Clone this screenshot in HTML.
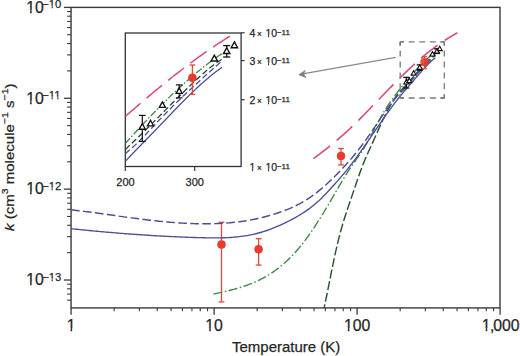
<!DOCTYPE html>
<html><head><meta charset="utf-8"><style>
html,body{margin:0;padding:0;background:#fff;}
body{width:520px;height:356px;overflow:hidden;position:relative;}
svg{position:absolute;left:0;top:0;font-family:"Liberation Sans",sans-serif;}
text{stroke:#262626;stroke-width:0.25px;}
</style></head><body>
<svg width="520" height="356" viewBox="0 0 520 356">
<rect x="71.05" y="7.4" width="428.95" height="300.5" fill="none" stroke="#3a3a3a" stroke-width="1.4"/>
<line x1="63.9" y1="7.40" x2="71" y2="7.40" stroke="#3a3a3a" stroke-width="1.3"/>
<line x1="67.1" y1="70.92" x2="71" y2="70.92" stroke="#3a3a3a" stroke-width="1.1"/>
<line x1="67.1" y1="54.91" x2="71" y2="54.91" stroke="#3a3a3a" stroke-width="1.1"/>
<line x1="67.1" y1="43.56" x2="71" y2="43.56" stroke="#3a3a3a" stroke-width="1.1"/>
<line x1="67.1" y1="34.75" x2="71" y2="34.75" stroke="#3a3a3a" stroke-width="1.1"/>
<line x1="67.1" y1="27.56" x2="71" y2="27.56" stroke="#3a3a3a" stroke-width="1.1"/>
<line x1="67.1" y1="21.48" x2="71" y2="21.48" stroke="#3a3a3a" stroke-width="1.1"/>
<line x1="67.1" y1="16.21" x2="71" y2="16.21" stroke="#3a3a3a" stroke-width="1.1"/>
<line x1="67.1" y1="11.56" x2="71" y2="11.56" stroke="#3a3a3a" stroke-width="1.1"/>
<line x1="63.9" y1="98.27" x2="71" y2="98.27" stroke="#3a3a3a" stroke-width="1.3"/>
<line x1="67.1" y1="161.79" x2="71" y2="161.79" stroke="#3a3a3a" stroke-width="1.1"/>
<line x1="67.1" y1="145.78" x2="71" y2="145.78" stroke="#3a3a3a" stroke-width="1.1"/>
<line x1="67.1" y1="134.43" x2="71" y2="134.43" stroke="#3a3a3a" stroke-width="1.1"/>
<line x1="67.1" y1="125.62" x2="71" y2="125.62" stroke="#3a3a3a" stroke-width="1.1"/>
<line x1="67.1" y1="118.43" x2="71" y2="118.43" stroke="#3a3a3a" stroke-width="1.1"/>
<line x1="67.1" y1="112.35" x2="71" y2="112.35" stroke="#3a3a3a" stroke-width="1.1"/>
<line x1="67.1" y1="107.08" x2="71" y2="107.08" stroke="#3a3a3a" stroke-width="1.1"/>
<line x1="67.1" y1="102.43" x2="71" y2="102.43" stroke="#3a3a3a" stroke-width="1.1"/>
<line x1="63.9" y1="189.14" x2="71" y2="189.14" stroke="#3a3a3a" stroke-width="1.3"/>
<line x1="67.1" y1="252.66" x2="71" y2="252.66" stroke="#3a3a3a" stroke-width="1.1"/>
<line x1="67.1" y1="236.65" x2="71" y2="236.65" stroke="#3a3a3a" stroke-width="1.1"/>
<line x1="67.1" y1="225.30" x2="71" y2="225.30" stroke="#3a3a3a" stroke-width="1.1"/>
<line x1="67.1" y1="216.49" x2="71" y2="216.49" stroke="#3a3a3a" stroke-width="1.1"/>
<line x1="67.1" y1="209.30" x2="71" y2="209.30" stroke="#3a3a3a" stroke-width="1.1"/>
<line x1="67.1" y1="203.22" x2="71" y2="203.22" stroke="#3a3a3a" stroke-width="1.1"/>
<line x1="67.1" y1="197.95" x2="71" y2="197.95" stroke="#3a3a3a" stroke-width="1.1"/>
<line x1="67.1" y1="193.30" x2="71" y2="193.30" stroke="#3a3a3a" stroke-width="1.1"/>
<line x1="63.9" y1="280.01" x2="71" y2="280.01" stroke="#3a3a3a" stroke-width="1.3"/>
<line x1="67.1" y1="284.17" x2="71" y2="284.17" stroke="#3a3a3a" stroke-width="1.1"/>
<line x1="67.1" y1="288.82" x2="71" y2="288.82" stroke="#3a3a3a" stroke-width="1.1"/>
<line x1="67.1" y1="294.09" x2="71" y2="294.09" stroke="#3a3a3a" stroke-width="1.1"/>
<line x1="67.1" y1="300.17" x2="71" y2="300.17" stroke="#3a3a3a" stroke-width="1.1"/>
<line x1="71.10" y1="307.9" x2="71.10" y2="314.8" stroke="#3a3a3a" stroke-width="1.3"/>
<line x1="114.15" y1="307.9" x2="114.15" y2="311.3" stroke="#3a3a3a" stroke-width="1.1"/>
<line x1="139.33" y1="307.9" x2="139.33" y2="311.3" stroke="#3a3a3a" stroke-width="1.1"/>
<line x1="157.19" y1="307.9" x2="157.19" y2="311.3" stroke="#3a3a3a" stroke-width="1.1"/>
<line x1="171.05" y1="307.9" x2="171.05" y2="311.3" stroke="#3a3a3a" stroke-width="1.1"/>
<line x1="182.38" y1="307.9" x2="182.38" y2="311.3" stroke="#3a3a3a" stroke-width="1.1"/>
<line x1="191.95" y1="307.9" x2="191.95" y2="311.3" stroke="#3a3a3a" stroke-width="1.1"/>
<line x1="200.24" y1="307.9" x2="200.24" y2="311.3" stroke="#3a3a3a" stroke-width="1.1"/>
<line x1="207.56" y1="307.9" x2="207.56" y2="311.3" stroke="#3a3a3a" stroke-width="1.1"/>
<line x1="214.10" y1="307.9" x2="214.10" y2="314.8" stroke="#3a3a3a" stroke-width="1.3"/>
<line x1="257.15" y1="307.9" x2="257.15" y2="311.3" stroke="#3a3a3a" stroke-width="1.1"/>
<line x1="282.33" y1="307.9" x2="282.33" y2="311.3" stroke="#3a3a3a" stroke-width="1.1"/>
<line x1="300.19" y1="307.9" x2="300.19" y2="311.3" stroke="#3a3a3a" stroke-width="1.1"/>
<line x1="314.05" y1="307.9" x2="314.05" y2="311.3" stroke="#3a3a3a" stroke-width="1.1"/>
<line x1="325.38" y1="307.9" x2="325.38" y2="311.3" stroke="#3a3a3a" stroke-width="1.1"/>
<line x1="334.95" y1="307.9" x2="334.95" y2="311.3" stroke="#3a3a3a" stroke-width="1.1"/>
<line x1="343.24" y1="307.9" x2="343.24" y2="311.3" stroke="#3a3a3a" stroke-width="1.1"/>
<line x1="350.56" y1="307.9" x2="350.56" y2="311.3" stroke="#3a3a3a" stroke-width="1.1"/>
<line x1="357.10" y1="307.9" x2="357.10" y2="314.8" stroke="#3a3a3a" stroke-width="1.3"/>
<line x1="400.15" y1="307.9" x2="400.15" y2="311.3" stroke="#3a3a3a" stroke-width="1.1"/>
<line x1="425.33" y1="307.9" x2="425.33" y2="311.3" stroke="#3a3a3a" stroke-width="1.1"/>
<line x1="443.19" y1="307.9" x2="443.19" y2="311.3" stroke="#3a3a3a" stroke-width="1.1"/>
<line x1="457.05" y1="307.9" x2="457.05" y2="311.3" stroke="#3a3a3a" stroke-width="1.1"/>
<line x1="468.38" y1="307.9" x2="468.38" y2="311.3" stroke="#3a3a3a" stroke-width="1.1"/>
<line x1="477.95" y1="307.9" x2="477.95" y2="311.3" stroke="#3a3a3a" stroke-width="1.1"/>
<line x1="486.24" y1="307.9" x2="486.24" y2="311.3" stroke="#3a3a3a" stroke-width="1.1"/>
<line x1="493.56" y1="307.9" x2="493.56" y2="311.3" stroke="#3a3a3a" stroke-width="1.1"/>
<line x1="500.10" y1="307.9" x2="500.10" y2="314.8" stroke="#3a3a3a" stroke-width="1.3"/>
<line x1="221.5" y1="222.3" x2="221.5" y2="301.9" stroke="#dc4a40" stroke-width="1.3"/><line x1="218.6" y1="222.3" x2="224.4" y2="222.3" stroke="#dc4a40" stroke-width="1.3"/><line x1="218.6" y1="301.9" x2="224.4" y2="301.9" stroke="#dc4a40" stroke-width="1.3"/>
<circle cx="221.5" cy="244.5" r="4.0" fill="#ec3b2c" stroke="#d83a2e" stroke-width="0.6"/>
<line x1="258.6" y1="238.7" x2="258.6" y2="265.1" stroke="#dc4a40" stroke-width="1.3"/><line x1="255.70000000000002" y1="238.7" x2="261.5" y2="238.7" stroke="#dc4a40" stroke-width="1.3"/><line x1="255.70000000000002" y1="265.1" x2="261.5" y2="265.1" stroke="#dc4a40" stroke-width="1.3"/>
<circle cx="258.6" cy="249.3" r="4.0" fill="#ec3b2c" stroke="#d83a2e" stroke-width="0.6"/>
<line x1="341" y1="148.5" x2="341" y2="164.9" stroke="#dc4a40" stroke-width="1.3"/><line x1="338.1" y1="148.5" x2="343.9" y2="148.5" stroke="#dc4a40" stroke-width="1.3"/><line x1="338.1" y1="164.9" x2="343.9" y2="164.9" stroke="#dc4a40" stroke-width="1.3"/>
<circle cx="341" cy="156" r="4.0" fill="#ec3b2c" stroke="#d83a2e" stroke-width="0.6"/>
<defs><clipPath id="cm"><rect x="71.05" y="7.4" width="428.95" height="300.5"/></clipPath><clipPath id="ci"><rect x="125.3" y="33" width="115.8" height="133.5"/></clipPath></defs>
<g clip-path="url(#cm)">
<path d="M313.40,158.65 L314.12,158.12 L314.85,157.59 L315.57,157.06 L316.29,156.52 L317.02,155.99 L317.74,155.45 L318.47,154.91 L319.19,154.37 L319.91,153.82 L320.64,153.27 L321.36,152.72 L322.08,152.17 L322.81,151.61 L323.53,151.06 L324.25,150.49 L324.98,149.93 L325.70,149.37 L326.43,148.80 L327.15,148.23 L327.87,147.65 L328.60,147.08 L329.32,146.50 L330.04,145.92 L330.77,145.33 L331.49,144.74 L332.21,144.15 L332.94,143.56 L333.66,142.96 L334.38,142.36 L335.11,141.76 L335.83,141.15 L336.56,140.54 L337.28,139.93 L338.00,139.31 L338.73,138.69 L339.45,138.07 L340.17,137.44 L340.90,136.81 L341.62,136.18 L342.34,135.54 L343.07,134.90 L343.79,134.26 L344.52,133.61 L345.24,132.96 L345.96,132.30 L346.69,131.64 L347.41,130.98 L348.13,130.31 L348.86,129.64 L349.58,128.97 L350.30,128.29 L351.03,127.61 L351.75,126.92 L352.48,126.23 L353.20,125.53 L353.92,124.83 L354.65,124.13 L355.37,123.42 L356.09,122.71 L356.82,122.00 L357.54,121.28 L358.26,120.56 L358.99,119.84 L359.71,119.11 L360.44,118.38 L361.16,117.65 L361.88,116.92 L362.61,116.18 L363.33,115.44 L364.05,114.70 L364.78,113.96 L365.50,113.22 L366.22,112.47 L366.95,111.73 L367.67,110.98 L368.39,110.23 L369.12,109.48 L369.84,108.73 L370.57,107.98 L371.29,107.22 L372.01,106.47 L372.74,105.72 L373.46,104.96 L374.18,104.21 L374.91,103.46 L375.63,102.71 L376.35,101.95 L377.08,101.20 L377.80,100.45 L378.53,99.70 L379.25,98.95 L379.97,98.20 L380.70,97.45 L381.42,96.70 L382.14,95.95 L382.87,95.21 L383.59,94.46 L384.31,93.72 L385.04,92.97 L385.76,92.23 L386.49,91.49 L387.21,90.75 L387.93,90.01 L388.66,89.27 L389.38,88.54 L390.10,87.80 L390.83,87.07 L391.55,86.34 L392.27,85.61 L393.00,84.88 L393.72,84.15 L394.45,83.42 L395.17,82.70 L395.89,81.98 L396.62,81.26 L397.34,80.54 L398.06,79.82 L398.79,79.10 L399.51,78.39 L400.23,77.68 L400.96,76.97 L401.68,76.26 L402.41,75.55 L403.13,74.84 L403.85,74.14 L404.58,73.44 L405.30,72.74 L406.02,72.04 L406.75,71.35 L407.47,70.66 L408.19,69.97 L408.92,69.28 L409.64,68.60 L410.36,67.92 L411.09,67.24 L411.81,66.57 L412.54,65.90 L413.26,65.23 L413.98,64.57 L414.71,63.90 L415.43,63.25 L416.15,62.59 L416.88,61.94 L417.60,61.30 L418.32,60.66 L419.05,60.02 L419.77,59.39 L420.50,58.76 L421.22,58.13 L421.94,57.51 L422.67,56.89 L423.39,56.28 L424.11,55.68 L424.84,55.07 L425.56,54.48 L426.28,53.89 L427.01,53.30 L427.73,52.72 L428.46,52.14 L429.18,51.57 L429.90,51.00 L430.63,50.44 L431.35,49.89 L432.07,49.33 L432.80,48.79 L433.52,48.25 L434.24,47.71 L434.97,47.18 L435.69,46.65 L436.42,46.13 L437.14,45.61 L437.86,45.09 L438.59,44.58 L439.31,44.08 L440.03,43.58 L440.76,43.08 L441.48,42.59 L442.20,42.10 L442.93,41.62 L443.65,41.13 L444.37,40.66 L445.10,40.19 L445.82,39.72 L446.55,39.25 L447.27,38.79 L447.99,38.33 L448.72,37.88 L449.44,37.43 L450.16,36.98 L450.89,36.53 L451.61,36.09 L452.33,35.65 L453.06,35.22 L453.78,34.79 L454.51,34.36 L455.23,33.94 L455.95,33.51 L456.68,33.09 L457.40,32.68" style="stroke:#d64a84;stroke-width:1.6;fill:none;stroke-dasharray:21 8.5"/>
<path d="M322.80,313.12 L323.37,310.77 L323.93,308.34 L324.50,305.84 L325.06,303.27 L325.63,300.65 L326.19,297.98 L326.76,295.26 L327.32,292.50 L327.89,289.71 L328.45,286.90 L329.02,284.07 L329.58,281.22 L330.15,278.37 L330.71,275.53 L331.28,272.69 L331.84,269.87 L332.41,267.06 L332.97,264.29 L333.54,261.55 L334.10,258.85 L334.67,256.20 L335.23,253.60 L335.80,251.06 L336.36,248.57 L336.93,246.13 L337.49,243.74 L338.06,241.41 L338.62,239.13 L339.19,236.90 L339.75,234.72 L340.32,232.58 L340.88,230.50 L341.45,228.47 L342.01,226.48 L342.58,224.54 L343.14,222.64 L343.71,220.79 L344.27,218.98 L344.84,217.20 L345.40,215.44 L345.97,213.72 L346.53,212.02 L347.10,210.33 L347.66,208.66 L348.23,206.99 L348.79,205.34 L349.36,203.68 L349.92,202.02 L350.49,200.36 L351.06,198.69 L351.62,197.01 L352.19,195.32 L352.75,193.64 L353.32,191.95 L353.88,190.27 L354.45,188.58 L355.01,186.90 L355.58,185.23 L356.14,183.56 L356.71,181.91 L357.27,180.26 L357.84,178.63 L358.40,177.01 L358.97,175.40 L359.53,173.82 L360.10,172.25 L360.66,170.70 L361.23,169.18 L361.79,167.68 L362.36,166.20 L362.92,164.76 L363.49,163.34 L364.05,161.94 L364.62,160.58 L365.18,159.23 L365.75,157.90 L366.31,156.59 L366.88,155.30 L367.44,154.02 L368.01,152.75 L368.57,151.50 L369.14,150.25 L369.70,149.01 L370.27,147.77 L370.83,146.54 L371.40,145.30 L371.96,144.07 L372.53,142.83 L373.09,141.58 L373.66,140.33 L374.22,139.07 L374.79,137.80 L375.35,136.53 L375.92,135.26 L376.48,133.98 L377.05,132.71 L377.62,131.43 L378.18,130.16 L378.75,128.90 L379.31,127.64 L379.88,126.39 L380.44,125.15 L381.01,123.92 L381.57,122.70 L382.14,121.50 L382.70,120.30 L383.27,119.12 L383.83,117.95 L384.40,116.80 L384.96,115.66 L385.53,114.53 L386.09,113.42 L386.66,112.32 L387.22,111.23 L387.79,110.17 L388.35,109.11 L388.92,108.08 L389.48,107.05 L390.05,106.05 L390.61,105.06 L391.18,104.09 L391.74,103.14 L392.31,102.21 L392.87,101.29 L393.44,100.40 L394.00,99.52 L394.57,98.66 L395.13,97.82 L395.70,97.01 L396.26,96.21 L396.83,95.43 L397.39,94.68 L397.96,93.94 L398.52,93.23 L399.09,92.54 L399.65,91.87 L400.22,91.23 L400.78,90.60 L401.35,90.00 L401.91,89.40 L402.48,88.80 L403.04,88.20 L403.61,87.60 L404.17,86.99 L404.74,86.37 L405.31,85.76 L405.87,85.14 L406.44,84.52 L407.00,83.89 L407.57,83.26 L408.13,82.63 L408.70,82.00 L409.26,81.36 L409.83,80.72 L410.39,80.08 L410.96,79.44 L411.52,78.80 L412.09,78.16 L412.65,77.52 L413.22,76.87 L413.78,76.23 L414.35,75.58 L414.91,74.94 L415.48,74.30 L416.04,73.66 L416.61,73.01 L417.17,72.37 L417.74,71.73 L418.30,71.10 L418.87,70.46 L419.43,69.83 L420.00,69.20 L420.56,68.57 L421.13,67.94 L421.69,67.32 L422.26,66.70 L422.82,66.08 L423.39,65.47 L423.95,64.86 L424.52,64.26 L425.08,63.66 L425.65,63.06 L426.21,62.47 L426.78,61.89 L427.34,61.30 L427.91,60.73 L428.47,60.16 L429.04,59.60 L429.60,59.05 L430.17,58.51 L430.73,57.98 L431.30,57.46 L431.86,56.96 L432.43,56.48 L433.00,56.01 L433.56,55.57 L434.13,55.15 L434.69,54.75 L435.26,54.38" style="stroke:#2a5530;stroke-width:1.45;fill:none;stroke-dasharray:9 2.8"/>
<path d="M213.50,294.15 L214.61,293.90 L215.73,293.65 L216.84,293.40 L217.96,293.15 L219.07,292.90 L220.19,292.65 L221.30,292.40 L222.41,292.14 L223.53,291.88 L224.64,291.62 L225.76,291.36 L226.87,291.09 L227.99,290.82 L229.10,290.54 L230.22,290.26 L231.33,289.98 L232.44,289.69 L233.56,289.39 L234.67,289.09 L235.79,288.78 L236.90,288.46 L238.02,288.14 L239.13,287.80 L240.24,287.46 L241.36,287.12 L242.47,286.76 L243.59,286.39 L244.70,286.01 L245.82,285.63 L246.93,285.23 L248.04,284.82 L249.16,284.40 L250.27,283.97 L251.39,283.53 L252.50,283.07 L253.62,282.61 L254.73,282.13 L255.85,281.63 L256.96,281.12 L258.07,280.60 L259.19,280.06 L260.30,279.51 L261.42,278.94 L262.53,278.36 L263.65,277.76 L264.76,277.14 L265.87,276.50 L266.99,275.85 L268.10,275.18 L269.22,274.50 L270.33,273.79 L271.45,273.07 L272.56,272.32 L273.67,271.56 L274.79,270.77 L275.90,269.97 L277.02,269.14 L278.13,268.30 L279.25,267.43 L280.36,266.54 L281.48,265.63 L282.59,264.69 L283.70,263.73 L284.82,262.75 L285.93,261.75 L287.05,260.71 L288.16,259.66 L289.28,258.58 L290.39,257.47 L291.50,256.34 L292.62,255.18 L293.73,254.00 L294.85,252.79 L295.96,251.55 L297.08,250.28 L298.19,248.99 L299.30,247.66 L300.42,246.31 L301.53,244.93 L302.65,243.52 L303.76,242.08 L304.88,240.62 L305.99,239.13 L307.11,237.61 L308.22,236.07 L309.33,234.50 L310.45,232.91 L311.56,231.30 L312.68,229.66 L313.79,228.00 L314.91,226.33 L316.02,224.63 L317.13,222.91 L318.25,221.18 L319.36,219.42 L320.48,217.65 L321.59,215.86 L322.71,214.06 L323.82,212.24 L324.93,210.41 L326.05,208.56 L327.16,206.71 L328.28,204.83 L329.39,202.95 L330.51,201.06 L331.62,199.16 L332.74,197.24 L333.85,195.32 L334.96,193.39 L336.08,191.46 L337.19,189.52 L338.31,187.59 L339.42,185.66 L340.54,183.75 L341.65,181.85 L342.76,179.96 L343.88,178.11 L344.99,176.27 L346.11,174.47 L347.22,172.71 L348.34,170.98 L349.45,169.30 L350.57,167.65 L351.68,166.04 L352.79,164.44 L353.91,162.86 L355.02,161.28 L356.14,159.71 L357.25,158.13 L358.37,156.53 L359.48,154.91 L360.59,153.26 L361.71,151.57 L362.82,149.84 L363.94,148.05 L365.05,146.21 L366.17,144.30 L367.28,142.35 L368.39,140.35 L369.51,138.31 L370.62,136.24 L371.74,134.15 L372.85,132.05 L373.97,129.93 L375.08,127.82 L376.20,125.71 L377.31,123.61 L378.42,121.54 L379.54,119.49 L380.65,117.48 L381.77,115.51 L382.88,113.58 L384.00,111.71 L385.11,109.90 L386.22,108.12 L387.34,106.40 L388.45,104.71 L389.57,103.07 L390.68,101.46 L391.80,99.88 L392.91,98.34 L394.02,96.82 L395.14,95.33 L396.25,93.86 L397.37,92.41 L398.48,90.97 L399.60,89.55 L400.71,88.15 L401.83,86.75 L402.94,85.36 L404.05,83.99 L405.17,82.62 L406.28,81.27 L407.40,79.93 L408.51,78.61 L409.63,77.30 L410.74,76.00 L411.85,74.71 L412.97,73.45 L414.08,72.19 L415.20,70.96 L416.31,69.74 L417.43,68.53 L418.54,67.35 L419.65,66.18 L420.77,65.03 L421.88,63.90 L423.00,62.79 L424.11,61.70 L425.23,60.63 L426.34,59.58 L427.46,58.55 L428.57,57.54 L429.68,56.56 L430.80,55.60 L431.91,54.67 L433.03,53.76 L434.14,52.89 L435.26,52.05" style="stroke:#3f8a48;stroke-width:1.4;fill:none;stroke-dasharray:9 2.5 1.5 2.5"/>
<path d="M71.10,209.84 L72.93,210.05 L74.76,210.26 L76.59,210.48 L78.42,210.69 L80.25,210.92 L82.08,211.14 L83.91,211.37 L85.74,211.60 L87.57,211.84 L89.40,212.08 L91.23,212.32 L93.06,212.56 L94.89,212.81 L96.72,213.05 L98.55,213.30 L100.38,213.55 L102.21,213.81 L104.04,214.06 L105.87,214.31 L107.70,214.57 L109.53,214.82 L111.36,215.08 L113.19,215.33 L115.02,215.59 L116.85,215.85 L118.68,216.10 L120.51,216.35 L122.34,216.61 L124.17,216.86 L126.00,217.11 L127.83,217.36 L129.66,217.61 L131.49,217.85 L133.32,218.10 L135.15,218.34 L136.98,218.58 L138.81,218.81 L140.64,219.05 L142.47,219.28 L144.30,219.51 L146.13,219.73 L147.96,219.95 L149.79,220.16 L151.62,220.38 L153.45,220.58 L155.28,220.79 L157.11,220.98 L158.94,221.18 L160.77,221.36 L162.60,221.55 L164.43,221.72 L166.26,221.90 L168.09,222.06 L169.92,222.22 L171.75,222.37 L173.58,222.52 L175.41,222.66 L177.24,222.79 L179.07,222.92 L180.90,223.04 L182.73,223.15 L184.56,223.25 L186.39,223.34 L188.22,223.43 L190.05,223.51 L191.88,223.58 L193.71,223.64 L195.54,223.69 L197.37,223.73 L199.19,223.77 L201.02,223.79 L202.85,223.80 L204.68,223.81 L206.51,223.80 L208.34,223.79 L210.17,223.76 L212.00,223.72 L213.83,223.67 L215.66,223.61 L217.49,223.54 L219.32,223.46 L221.15,223.36 L222.98,223.25 L224.81,223.13 L226.64,223.00 L228.47,222.86 L230.30,222.70 L232.13,222.53 L233.96,222.34 L235.79,222.14 L237.62,221.93 L239.45,221.70 L241.28,221.45 L243.11,221.19 L244.94,220.92 L246.77,220.62 L248.60,220.32 L250.43,219.99 L252.26,219.65 L254.09,219.29 L255.92,218.92 L257.75,218.52 L259.58,218.11 L261.41,217.68 L263.24,217.24 L265.07,216.77 L266.90,216.28 L268.73,215.78 L270.56,215.25 L272.39,214.70 L274.22,214.14 L276.05,213.55 L277.88,212.94 L279.71,212.31 L281.54,211.66 L283.37,210.99 L285.20,210.29 L287.03,209.57 L288.86,208.82 L290.69,208.05 L292.52,207.24 L294.35,206.40 L296.18,205.52 L298.01,204.60 L299.84,203.65 L301.67,202.65 L303.50,201.61 L305.33,200.52 L307.16,199.38 L308.99,198.19 L310.82,196.95 L312.65,195.65 L314.48,194.30 L316.31,192.89 L318.14,191.44 L319.97,189.93 L321.80,188.39 L323.63,186.81 L325.46,185.19 L327.29,183.53 L329.12,181.84 L330.95,180.12 L332.78,178.36 L334.61,176.57 L336.44,174.74 L338.27,172.88 L340.10,170.98 L341.93,169.06 L343.76,167.09 L345.59,165.09 L347.42,163.06 L349.25,160.98 L351.08,158.86 L352.91,156.70 L354.74,154.49 L356.57,152.23 L358.40,149.92 L360.23,147.55 L362.06,145.13 L363.89,142.66 L365.72,140.12 L367.55,137.53 L369.38,134.89 L371.21,132.21 L373.04,129.51 L374.87,126.78 L376.70,124.05 L378.53,121.33 L380.36,118.62 L382.19,115.93 L384.02,113.28 L385.85,110.67 L387.68,108.12 L389.51,105.64 L391.34,103.23 L393.17,100.91 L395.00,98.69 L396.83,96.57 L398.66,94.57 L400.49,92.71 L402.32,90.92 L404.15,89.03 L405.98,86.99 L407.81,84.84 L409.64,82.64 L411.47,80.43 L413.30,78.27 L415.13,76.15 L416.96,74.08 L418.79,72.05 L420.62,70.06 L422.45,68.10 L424.28,66.17 L426.11,64.27 L427.94,62.39 L429.77,60.53 L431.60,58.69 L433.43,56.87 L435.26,55.06" style="stroke:#4c4e92;stroke-width:1.45;fill:none;stroke-dasharray:8.6 3.4"/>
<path d="M71.10,228.70 L72.93,228.89 L74.76,229.08 L76.59,229.27 L78.42,229.45 L80.25,229.64 L82.08,229.82 L83.91,230.00 L85.74,230.19 L87.57,230.36 L89.40,230.54 L91.23,230.72 L93.06,230.89 L94.89,231.06 L96.72,231.24 L98.55,231.41 L100.38,231.57 L102.21,231.74 L104.04,231.90 L105.87,232.06 L107.70,232.23 L109.53,232.38 L111.36,232.54 L113.19,232.70 L115.02,232.85 L116.85,233.00 L118.68,233.15 L120.51,233.30 L122.34,233.44 L124.17,233.59 L126.00,233.73 L127.83,233.87 L129.66,234.01 L131.49,234.14 L133.32,234.28 L135.15,234.41 L136.98,234.54 L138.81,234.67 L140.64,234.79 L142.47,234.92 L144.30,235.04 L146.13,235.16 L147.96,235.28 L149.79,235.39 L151.62,235.51 L153.45,235.62 L155.28,235.73 L157.11,235.83 L158.94,235.94 L160.77,236.04 L162.60,236.14 L164.43,236.24 L166.26,236.33 L168.09,236.43 L169.92,236.52 L171.75,236.61 L173.58,236.69 L175.41,236.78 L177.24,236.86 L179.07,236.94 L180.90,237.01 L182.73,237.09 L184.56,237.16 L186.39,237.23 L188.22,237.30 L190.05,237.36 L191.88,237.42 L193.71,237.48 L195.54,237.54 L197.37,237.60 L199.19,237.65 L201.02,237.70 L202.85,237.74 L204.68,237.79 L206.51,237.82 L208.34,237.85 L210.17,237.88 L212.00,237.90 L213.83,237.91 L215.66,237.91 L217.49,237.89 L219.32,237.87 L221.15,237.84 L222.98,237.79 L224.81,237.73 L226.64,237.66 L228.47,237.57 L230.30,237.46 L232.13,237.34 L233.96,237.19 L235.79,237.03 L237.62,236.85 L239.45,236.65 L241.28,236.42 L243.11,236.17 L244.94,235.90 L246.77,235.61 L248.60,235.29 L250.43,234.94 L252.26,234.56 L254.09,234.16 L255.92,233.73 L257.75,233.27 L259.58,232.77 L261.41,232.25 L263.24,231.70 L265.07,231.11 L266.90,230.49 L268.73,229.85 L270.56,229.17 L272.39,228.47 L274.22,227.74 L276.05,226.99 L277.88,226.20 L279.71,225.40 L281.54,224.56 L283.37,223.71 L285.20,222.83 L287.03,221.93 L288.86,221.00 L290.69,220.06 L292.52,219.09 L294.35,218.10 L296.18,217.07 L298.01,216.02 L299.84,214.93 L301.67,213.80 L303.50,212.63 L305.33,211.42 L307.16,210.15 L308.99,208.84 L310.82,207.47 L312.65,206.04 L314.48,204.55 L316.31,202.99 L318.14,201.37 L319.97,199.67 L321.80,197.90 L323.63,196.07 L325.46,194.18 L327.29,192.24 L329.12,190.26 L330.95,188.25 L332.78,186.22 L334.61,184.18 L336.44,182.14 L338.27,180.09 L340.10,178.02 L341.93,175.92 L343.76,173.77 L345.59,171.58 L347.42,169.32 L349.25,167.01 L351.08,164.65 L352.91,162.24 L354.74,159.78 L356.57,157.29 L358.40,154.76 L360.23,152.19 L362.06,149.60 L363.89,146.99 L365.72,144.35 L367.55,141.70 L369.38,139.03 L371.21,136.36 L373.04,133.69 L374.87,131.01 L376.70,128.34 L378.53,125.67 L380.36,123.02 L382.19,120.39 L384.02,117.77 L385.85,115.18 L387.68,112.61 L389.51,110.08 L391.34,107.58 L393.17,105.12 L395.00,102.71 L396.83,100.34 L398.66,98.03 L400.49,95.77 L402.32,93.57 L404.15,91.41 L405.98,89.28 L407.81,87.17 L409.64,85.06 L411.47,82.93 L413.30,80.79 L415.13,78.64 L416.96,76.49 L418.79,74.35 L420.62,72.24 L422.45,70.17 L424.28,68.14 L426.11,66.18 L427.94,64.29 L429.77,62.48 L431.60,60.76 L433.43,59.16 L435.26,57.67" style="stroke:#4c4e92;stroke-width:1.35;fill:none"/>
</g>
<path d="M400.20,41.90 L404.00,41.90 M440.50,41.90 L444.30,41.90 M408.62,41.90 L414.62,41.90 M419.25,41.90 L425.25,41.90 M429.88,41.90 L435.88,41.90 M444.30,41.90 L444.30,45.70 M444.30,94.20 L444.30,98.00 M444.30,50.60 L444.30,56.60 M444.30,61.50 L444.30,67.50 M444.30,72.40 L444.30,78.40 M444.30,83.30 L444.30,89.30 M444.30,98.00 L440.50,98.00 M404.00,98.00 L400.20,98.00 M435.88,98.00 L429.88,98.00 M425.25,98.00 L419.25,98.00 M414.62,98.00 L408.62,98.00 M400.20,98.00 L400.20,94.20 M400.20,45.70 L400.20,41.90 M400.20,89.30 L400.20,83.30 M400.20,78.40 L400.20,72.40 M400.20,67.50 L400.20,61.50 M400.20,56.60 L400.20,50.60 " fill="none" stroke="#7a7a7a" stroke-width="1.3"/>
<path d="M400.2,45.699999999999996 L400.2,41.9 L404.0,41.9 M440.5,41.9 L444.3,41.9 L444.3,45.699999999999996 M444.3,94.2 L444.3,98.0 L440.5,98.0 M404.0,98.0 L400.2,98.0 L400.2,94.2" fill="none" stroke="#7a7a7a" stroke-width="1.3" stroke-linejoin="miter"/>
<line x1="395.7" y1="57.3" x2="304" y2="73.6" stroke="#8a8a8a" stroke-width="1.3"/>
<path d="M298.8,74.8 L305.2,70.4 L303.6,73.9 L306.0,77.6 Z" fill="#7a7a7a" stroke="#7a7a7a" stroke-width="0.6"/>
<line x1="406.32" y1="77.35" x2="406.32" y2="88.0" stroke="#111" stroke-width="1.3"/><line x1="403.32" y1="77.35" x2="409.32" y2="77.35" stroke="#111" stroke-width="1.3"/><line x1="403.32" y1="88.0" x2="409.32" y2="88.0" stroke="#111" stroke-width="1.3"/>
<path d="M406.32,79.61 L408.82,84.01 L403.82,84.01 Z" fill="white" stroke="#111" stroke-width="1.1" stroke-linejoin="miter"/>
<path d="M409.29,78.21 L411.79,82.61 L406.79,82.61 Z" fill="white" stroke="#111" stroke-width="1.1" stroke-linejoin="miter"/>
<path d="M413.61,70.68 L416.11,75.08 L411.11,75.08 Z" fill="white" stroke="#111" stroke-width="1.1" stroke-linejoin="miter"/>
<line x1="419.71" y1="64.87" x2="419.71" y2="70.19" stroke="#111" stroke-width="1.3"/><line x1="416.71" y1="64.87" x2="422.71" y2="64.87" stroke="#111" stroke-width="1.3"/><line x1="416.71" y1="70.19" x2="422.71" y2="70.19" stroke="#111" stroke-width="1.3"/>
<path d="M419.71,64.95 L422.21,69.35 L417.21,69.35 Z" fill="white" stroke="#111" stroke-width="1.1" stroke-linejoin="miter"/>
<path d="M432.45,51.61 L434.95,56.01 L429.95,56.01 Z" fill="white" stroke="#111" stroke-width="1.1" stroke-linejoin="miter"/>
<line x1="436.95" y1="48.78" x2="436.95" y2="53.45" stroke="#111" stroke-width="1.3"/><line x1="433.95" y1="48.78" x2="439.95" y2="48.78" stroke="#111" stroke-width="1.3"/><line x1="433.95" y1="53.45" x2="439.95" y2="53.45" stroke="#111" stroke-width="1.3"/>
<path d="M436.95,48.58 L439.45,52.98 L434.45,52.98 Z" fill="white" stroke="#111" stroke-width="1.1" stroke-linejoin="miter"/>
<path d="M439.74,46.21 L442.24,50.61 L437.24,50.61 Z" fill="white" stroke="#111" stroke-width="1.1" stroke-linejoin="miter"/>
<line x1="424.5" y1="56.72" x2="424.5" y2="68.76" stroke="#dc4a40" stroke-width="1.2"/><line x1="421.9" y1="56.72" x2="427.1" y2="56.72" stroke="#dc4a40" stroke-width="1.2"/><line x1="421.9" y1="68.76" x2="427.1" y2="68.76" stroke="#dc4a40" stroke-width="1.2"/>
<circle cx="424.50" cy="61.96" r="4" fill="#ec3b2c" stroke="#d83a2e" stroke-width="0.6" opacity="0.88"/>
<rect x="125.3" y="33" width="115.8" height="133.5" fill="white" stroke="#333" stroke-width="1.3"/>
<g clip-path="url(#ci)">
<path d="M125.30,116.40 L126.63,115.24 L127.95,114.09 L129.28,112.94 L130.60,111.79 L131.93,110.64 L133.25,109.49 L134.58,108.35 L135.90,107.21 L137.23,106.07 L138.56,104.94 L139.88,103.80 L141.21,102.67 L142.53,101.54 L143.86,100.42 L145.18,99.29 L146.51,98.17 L147.84,97.06 L149.16,95.94 L150.49,94.83 L151.81,93.72 L153.14,92.62 L154.46,91.51 L155.79,90.42 L157.11,89.32 L158.44,88.23 L159.77,87.14 L161.09,86.06 L162.42,84.98 L163.74,83.90 L165.07,82.82 L166.39,81.75 L167.72,80.69 L169.04,79.63 L170.37,78.57 L171.70,77.52 L173.02,76.47 L174.35,75.42 L175.67,74.38 L177.00,73.35 L178.32,72.31 L179.65,71.29 L180.97,70.26 L182.30,69.25 L183.63,68.23 L184.95,67.22 L186.28,66.22 L187.60,65.22 L188.93,64.23 L190.25,63.24 L191.58,62.26 L192.91,61.28 L194.23,60.31 L195.56,59.34 L196.88,58.38 L198.21,57.42 L199.53,56.47 L200.86,55.53 L202.18,54.59 L203.51,53.65 L204.84,52.72 L206.16,51.80 L207.49,50.88 L208.81,49.97 L210.14,49.07 L211.46,48.16 L212.79,47.27 L214.11,46.38 L215.44,45.49 L216.77,44.61 L218.09,43.74 L219.42,42.87 L220.74,42.00 L222.07,41.14 L223.39,40.29 L224.72,39.44 L226.04,38.59 L227.37,37.75 L228.70,36.91 L230.02,36.08 L231.35,35.26 L232.67,34.44 L234.00,33.62 L235.32,32.81 L236.65,32.00 L237.98,31.20 L239.30,30.40 L240.63,29.60 L241.95,28.81 L243.28,28.03 L244.60,27.25 L245.93,26.47 L247.25,25.70 L248.58,24.93 L249.91,24.16 L251.23,23.40 L252.56,22.64 L253.88,21.89 L255.21,21.14 L256.53,20.40 L257.86,19.66 L259.18,18.92 L260.51,18.19 L261.84,17.46 L263.16,16.73 L264.49,16.01 L265.81,15.29 L267.14,14.57 L268.46,13.86 L269.79,13.15 L271.11,12.45 L272.44,11.75 L273.77,11.05 L275.09,10.36 L276.42,9.66 L277.74,8.98 L279.07,8.29 L280.39,7.61 L281.72,6.93 L283.05,6.25" style="stroke:#d64a84;stroke-width:1.5;fill:none;stroke-dasharray:20 8"/>
<path d="M125.30,149.49 L126.11,148.69 L126.93,147.89 L127.74,147.11 L128.55,146.34 L129.36,145.58 L130.18,144.82 L130.99,144.05 L131.80,143.29 L132.62,142.53 L133.43,141.76 L134.24,140.99 L135.05,140.22 L135.87,139.44 L136.68,138.66 L137.49,137.88 L138.31,137.10 L139.12,136.31 L139.93,135.52 L140.74,134.73 L141.56,133.94 L142.37,133.15 L143.18,132.35 L144.00,131.55 L144.81,130.75 L145.62,129.95 L146.43,129.14 L147.25,128.34 L148.06,127.53 L148.87,126.72 L149.69,125.91 L150.50,125.10 L151.31,124.29 L152.12,123.47 L152.94,122.66 L153.75,121.84 L154.56,121.03 L155.38,120.21 L156.19,119.39 L157.00,118.57 L157.81,117.75 L158.63,116.93 L159.44,116.11 L160.25,115.29 L161.07,114.47 L161.88,113.65 L162.69,112.83 L163.51,112.01 L164.32,111.18 L165.13,110.36 L165.94,109.54 L166.76,108.72 L167.57,107.90 L168.38,107.08 L169.20,106.26 L170.01,105.44 L170.82,104.63 L171.63,103.81 L172.45,102.99 L173.26,102.18 L174.07,101.36 L174.89,100.55 L175.70,99.74 L176.51,98.93 L177.32,98.12 L178.14,97.31 L178.95,96.51 L179.76,95.70 L180.58,94.90 L181.39,94.10 L182.20,93.30 L183.01,92.50 L183.83,91.70 L184.64,90.91 L185.45,90.12 L186.27,89.33 L187.08,88.54 L187.89,87.76 L188.70,86.97 L189.52,86.19 L190.33,85.42 L191.14,84.64 L191.96,83.87 L192.77,83.10 L193.58,82.34 L194.39,81.58 L195.21,80.82 L196.02,80.06 L196.83,79.31 L197.65,78.56 L198.46,77.81 L199.27,77.07 L200.08,76.33 L200.90,75.59 L201.71,74.86 L202.52,74.13 L203.34,73.41 L204.15,72.69 L204.96,71.98 L205.77,71.27 L206.59,70.57 L207.40,69.88 L208.21,69.19 L209.03,68.51 L209.84,67.84 L210.65,67.19 L211.46,66.54 L212.28,65.90 L213.09,65.27 L213.90,64.66 L214.72,64.05 L215.53,63.46 L216.34,62.89 L217.15,62.32 L217.97,61.77 L218.78,61.24 L219.59,60.72 L220.41,60.22 L221.22,59.74 L222.03,59.27" style="stroke:#23452a;stroke-width:1.3;fill:none;stroke-dasharray:6 3"/>
<path d="M125.30,143.50 L126.11,142.60 L126.93,141.69 L127.74,140.78 L128.55,139.88 L129.36,138.97 L130.18,138.07 L130.99,137.18 L131.80,136.28 L132.62,135.38 L133.43,134.49 L134.24,133.60 L135.05,132.71 L135.87,131.82 L136.68,130.94 L137.49,130.05 L138.31,129.17 L139.12,128.29 L139.93,127.42 L140.74,126.54 L141.56,125.67 L142.37,124.80 L143.18,123.93 L144.00,123.06 L144.81,122.20 L145.62,121.34 L146.43,120.48 L147.25,119.62 L148.06,118.76 L148.87,117.91 L149.69,117.06 L150.50,116.21 L151.31,115.37 L152.12,114.52 L152.94,113.68 L153.75,112.84 L154.56,112.01 L155.38,111.18 L156.19,110.34 L157.00,109.52 L157.81,108.69 L158.63,107.87 L159.44,107.05 L160.25,106.23 L161.07,105.41 L161.88,104.60 L162.69,103.79 L163.51,102.98 L164.32,102.18 L165.13,101.38 L165.94,100.58 L166.76,99.78 L167.57,98.99 L168.38,98.20 L169.20,97.41 L170.01,96.63 L170.82,95.84 L171.63,95.07 L172.45,94.29 L173.26,93.52 L174.07,92.75 L174.89,91.98 L175.70,91.22 L176.51,90.46 L177.32,89.70 L178.14,88.94 L178.95,88.19 L179.76,87.44 L180.58,86.70 L181.39,85.96 L182.20,85.22 L183.01,84.48 L183.83,83.75 L184.64,83.02 L185.45,82.30 L186.27,81.57 L187.08,80.85 L187.89,80.14 L188.70,79.43 L189.52,78.72 L190.33,78.01 L191.14,77.31 L191.96,76.61 L192.77,75.92 L193.58,75.23 L194.39,74.54 L195.21,73.86 L196.02,73.17 L196.83,72.50 L197.65,71.82 L198.46,71.16 L199.27,70.49 L200.08,69.83 L200.90,69.17 L201.71,68.51 L202.52,67.86 L203.34,67.22 L204.15,66.57 L204.96,65.93 L205.77,65.30 L206.59,64.67 L207.40,64.04 L208.21,63.42 L209.03,62.80 L209.84,62.19 L210.65,61.58 L211.46,60.97 L212.28,60.37 L213.09,59.78 L213.90,59.19 L214.72,58.60 L215.53,58.02 L216.34,57.45 L217.15,56.88 L217.97,56.31 L218.78,55.75 L219.59,55.20 L220.41,54.65 L221.22,54.11 L222.03,53.57" style="stroke:#3f8a48;stroke-width:1.3;fill:none;stroke-dasharray:7 2 1.5 2"/>
<path d="M125.30,153.73 L126.11,153.01 L126.93,152.31 L127.74,151.60 L128.55,150.90 L129.36,150.20 L130.18,149.49 L130.99,148.79 L131.80,148.07 L132.62,147.35 L133.43,146.62 L134.24,145.88 L135.05,145.13 L135.87,144.36 L136.68,143.59 L137.49,142.80 L138.31,142.01 L139.12,141.20 L139.93,140.39 L140.74,139.57 L141.56,138.74 L142.37,137.91 L143.18,137.07 L144.00,136.23 L144.81,135.37 L145.62,134.52 L146.43,133.66 L147.25,132.80 L148.06,131.93 L148.87,131.07 L149.69,130.20 L150.50,129.32 L151.31,128.45 L152.12,127.58 L152.94,126.71 L153.75,125.84 L154.56,124.97 L155.38,124.10 L156.19,123.23 L157.00,122.37 L157.81,121.51 L158.63,120.66 L159.44,119.80 L160.25,118.96 L161.07,118.11 L161.88,117.27 L162.69,116.43 L163.51,115.60 L164.32,114.76 L165.13,113.94 L165.94,113.11 L166.76,112.28 L167.57,111.46 L168.38,110.64 L169.20,109.83 L170.01,109.01 L170.82,108.20 L171.63,107.39 L172.45,106.59 L173.26,105.78 L174.07,104.98 L174.89,104.18 L175.70,103.39 L176.51,102.59 L177.32,101.80 L178.14,101.01 L178.95,100.23 L179.76,99.44 L180.58,98.66 L181.39,97.88 L182.20,97.10 L183.01,96.32 L183.83,95.55 L184.64,94.78 L185.45,94.01 L186.27,93.24 L187.08,92.47 L187.89,91.71 L188.70,90.95 L189.52,90.19 L190.33,89.43 L191.14,88.67 L191.96,87.92 L192.77,87.16 L193.58,86.41 L194.39,85.66 L195.21,84.91 L196.02,84.16 L196.83,83.42 L197.65,82.68 L198.46,81.93 L199.27,81.19 L200.08,80.45 L200.90,79.72 L201.71,78.98 L202.52,78.24 L203.34,77.51 L204.15,76.78 L204.96,76.05 L205.77,75.32 L206.59,74.59 L207.40,73.86 L208.21,73.13 L209.03,72.41 L209.84,71.68 L210.65,70.96 L211.46,70.24 L212.28,69.52 L213.09,68.80 L213.90,68.08 L214.72,67.36 L215.53,66.64 L216.34,65.93 L217.15,65.21 L217.97,64.49 L218.78,63.78 L219.59,63.07 L220.41,62.35 L221.22,61.64 L222.03,60.93" style="stroke:#4c4e92;stroke-width:1.3;fill:none;stroke-dasharray:6 3"/>
<path d="M125.30,161.41 L126.11,160.53 L126.93,159.66 L127.74,158.78 L128.55,157.91 L129.36,157.05 L130.18,156.18 L130.99,155.32 L131.80,154.47 L132.62,153.61 L133.43,152.76 L134.24,151.91 L135.05,151.06 L135.87,150.22 L136.68,149.37 L137.49,148.53 L138.31,147.69 L139.12,146.85 L139.93,146.02 L140.74,145.18 L141.56,144.35 L142.37,143.51 L143.18,142.68 L144.00,141.85 L144.81,141.02 L145.62,140.18 L146.43,139.35 L147.25,138.52 L148.06,137.69 L148.87,136.86 L149.69,136.03 L150.50,135.19 L151.31,134.36 L152.12,133.53 L152.94,132.69 L153.75,131.86 L154.56,131.02 L155.38,130.18 L156.19,129.34 L157.00,128.50 L157.81,127.65 L158.63,126.81 L159.44,125.97 L160.25,125.12 L161.07,124.27 L161.88,123.43 L162.69,122.58 L163.51,121.73 L164.32,120.88 L165.13,120.03 L165.94,119.19 L166.76,118.34 L167.57,117.49 L168.38,116.64 L169.20,115.80 L170.01,114.95 L170.82,114.10 L171.63,113.26 L172.45,112.41 L173.26,111.57 L174.07,110.73 L174.89,109.89 L175.70,109.05 L176.51,108.21 L177.32,107.37 L178.14,106.54 L178.95,105.71 L179.76,104.87 L180.58,104.05 L181.39,103.22 L182.20,102.40 L183.01,101.57 L183.83,100.75 L184.64,99.94 L185.45,99.12 L186.27,98.31 L187.08,97.51 L187.89,96.70 L188.70,95.90 L189.52,95.10 L190.33,94.31 L191.14,93.52 L191.96,92.73 L192.77,91.95 L193.58,91.17 L194.39,90.39 L195.21,89.62 L196.02,88.85 L196.83,88.09 L197.65,87.33 L198.46,86.58 L199.27,85.83 L200.08,85.09 L200.90,84.35 L201.71,83.62 L202.52,82.89 L203.34,82.17 L204.15,81.45 L204.96,80.74 L205.77,80.03 L206.59,79.33 L207.40,78.64 L208.21,77.95 L209.03,77.27 L209.84,76.59 L210.65,75.92 L211.46,75.26 L212.28,74.61 L213.09,73.96 L213.90,73.31 L214.72,72.68 L215.53,72.05 L216.34,71.43 L217.15,70.82 L217.97,70.21 L218.78,69.61 L219.59,69.02 L220.41,68.44 L221.22,67.87 L222.03,67.30" style="stroke:#4c4e92;stroke-width:1.3;fill:none"/>
</g>
<line x1="192.4" y1="65" x2="192.4" y2="94.4" stroke="#dc4a40" stroke-width="1.3"/><line x1="189.5" y1="65" x2="195.3" y2="65" stroke="#dc4a40" stroke-width="1.3"/><line x1="189.5" y1="94.4" x2="195.3" y2="94.4" stroke="#dc4a40" stroke-width="1.3"/>
<circle cx="192.4" cy="77.8" r="4.0" fill="#ec3b2c" stroke="#d83a2e" stroke-width="0.6"/>
<line x1="142.3" y1="115.4" x2="142.3" y2="141.4" stroke="#111" stroke-width="1.2"/><line x1="139.0" y1="115.4" x2="145.60000000000002" y2="115.4" stroke="#111" stroke-width="1.2"/><line x1="139.0" y1="141.4" x2="145.60000000000002" y2="141.4" stroke="#111" stroke-width="1.2"/>
<path d="M142.30,123.63 L145.40,129.23 L139.20,129.23 Z" fill="white" stroke="#111" stroke-width="1.3" stroke-linejoin="miter"/>
<path d="M150.50,120.23 L153.60,125.83 L147.40,125.83 Z" fill="white" stroke="#111" stroke-width="1.3" stroke-linejoin="miter"/>
<path d="M162.40,101.83 L165.50,107.43 L159.30,107.43 Z" fill="white" stroke="#111" stroke-width="1.3" stroke-linejoin="miter"/>
<line x1="179.2" y1="84.9" x2="179.2" y2="97.9" stroke="#111" stroke-width="1.2"/><line x1="175.89999999999998" y1="84.9" x2="182.5" y2="84.9" stroke="#111" stroke-width="1.2"/><line x1="175.89999999999998" y1="97.9" x2="182.5" y2="97.9" stroke="#111" stroke-width="1.2"/>
<path d="M179.20,87.83 L182.30,93.43 L176.10,93.43 Z" fill="white" stroke="#111" stroke-width="1.3" stroke-linejoin="miter"/>
<path d="M214.30,55.13 L217.50,60.93 L211.10,60.93 Z" fill="white" stroke="#111" stroke-width="1.4" stroke-linejoin="miter"/>
<line x1="226.7" y1="45.6" x2="226.7" y2="57" stroke="#111" stroke-width="1.3"/><line x1="223.2" y1="45.6" x2="230.2" y2="45.6" stroke="#111" stroke-width="1.3"/><line x1="223.2" y1="57" x2="230.2" y2="57" stroke="#111" stroke-width="1.3"/>
<path d="M226.70,47.73 L229.90,53.53 L223.50,53.53 Z" fill="white" stroke="#111" stroke-width="1.4" stroke-linejoin="miter"/>
<path d="M234.40,41.93 L237.60,47.73 L231.20,47.73 Z" fill="white" stroke="#111" stroke-width="1.4" stroke-linejoin="miter"/>
<line x1="125.3" y1="166.5" x2="125.3" y2="171" stroke="#333" stroke-width="1.2"/>
<line x1="194.7" y1="166.5" x2="194.7" y2="171" stroke="#333" stroke-width="1.2"/>
<line x1="241.1" y1="32.8" x2="244.6" y2="32.8" stroke="#333" stroke-width="1.2"/>
<line x1="241.1" y1="60.6" x2="244.6" y2="60.6" stroke="#333" stroke-width="1.2"/>
<line x1="241.1" y1="99.7" x2="244.6" y2="99.7" stroke="#333" stroke-width="1.2"/>
<text x="26.2" y="12.70" font-size="15.8" fill="#262626">10</text>
<text x="42.2" y="8.30" font-size="11.3" fill="#262626">&#8722;10</text>
<text x="26.2" y="103.57" font-size="15.8" fill="#262626">10</text>
<text x="42.2" y="99.17" font-size="11.3" fill="#262626">&#8722;11</text>
<text x="26.2" y="194.44" font-size="15.8" fill="#262626">10</text>
<text x="42.2" y="190.04" font-size="11.3" fill="#262626">&#8722;12</text>
<text x="26.2" y="285.31" font-size="15.8" fill="#262626">10</text>
<text x="42.2" y="280.91" font-size="11.3" fill="#262626">&#8722;13</text>
<text x="71.10" y="331.2" font-size="15.8" fill="#262626" text-anchor="middle">1</text>
<text x="214.10" y="331.2" font-size="15.8" fill="#262626" text-anchor="middle">10</text>
<text x="357.10" y="331.2" font-size="15.8" fill="#262626" text-anchor="middle">100</text>
<text x="500.70" y="331.2" font-size="15.8" fill="#262626" text-anchor="middle">1<tspan dx="-0.6">,</tspan><tspan dx="-1.2">000</tspan></text>
<text x="286.2" y="352" font-size="15" fill="#262626" text-anchor="middle">Temperature (K)</text>
<text transform="translate(13.9,231) rotate(-90) scale(1.105,1)" font-size="13.6" fill="#262626"><tspan font-style="italic">k</tspan> (cm<tspan font-size="9.5" dy="-6.3">3</tspan><tspan dy="6.3"> molecule</tspan><tspan font-size="9.5" dy="-6.3">&#8722;1</tspan><tspan dy="6.3"> s</tspan><tspan font-size="9.5" dy="-6.3">&#8722;1</tspan><tspan dy="6.3">)</tspan></text>
<text x="125.5" y="186" font-size="11" fill="#262626" text-anchor="middle">200</text>
<text x="194.7" y="186" font-size="11" fill="#262626" text-anchor="middle">300</text>
<text x="249.5" y="37.40" font-size="10.5" fill="#262626">4</text>
<text x="257.0" y="36.80" font-size="8.2" fill="#262626">&#215;</text>
<text x="265.4" y="37.40" font-size="10.5" fill="#262626">10</text>
<text x="276.9" y="34.80" font-size="8" fill="#262626">&#8722;11</text>
<text x="249.5" y="65.20" font-size="10.5" fill="#262626">3</text>
<text x="257.0" y="64.60" font-size="8.2" fill="#262626">&#215;</text>
<text x="265.4" y="65.20" font-size="10.5" fill="#262626">10</text>
<text x="276.9" y="62.60" font-size="8" fill="#262626">&#8722;11</text>
<text x="249.5" y="104.30" font-size="10.5" fill="#262626">2</text>
<text x="257.0" y="103.70" font-size="8.2" fill="#262626">&#215;</text>
<text x="265.4" y="104.30" font-size="10.5" fill="#262626">10</text>
<text x="276.9" y="101.70" font-size="8" fill="#262626">&#8722;11</text>
<text x="249.5" y="171.10" font-size="10.5" fill="#262626">1</text>
<text x="257.0" y="170.50" font-size="8.2" fill="#262626">&#215;</text>
<text x="265.4" y="171.10" font-size="10.5" fill="#262626">10</text>
<text x="276.9" y="168.50" font-size="8" fill="#262626">&#8722;11</text>
<g id="feet"><rect x="26.60" y="9.82" width="3.47" height="4.58" fill="#fff"/><rect x="31.67" y="9.82" width="3.45" height="4.58" fill="#fff"/><rect x="48.85" y="5.76" width="2.68" height="4.24" fill="#fff"/><rect x="52.73" y="5.76" width="2.69" height="4.24" fill="#fff"/><rect x="26.60" y="100.69" width="3.47" height="4.58" fill="#fff"/><rect x="31.67" y="100.69" width="3.45" height="4.58" fill="#fff"/><rect x="48.85" y="96.63" width="2.68" height="4.24" fill="#fff"/><rect x="52.73" y="96.63" width="2.69" height="4.24" fill="#fff"/><rect x="54.71" y="96.63" width="2.68" height="4.24" fill="#fff"/><rect x="58.59" y="96.63" width="2.69" height="4.24" fill="#fff"/><rect x="26.60" y="191.56" width="3.47" height="4.58" fill="#fff"/><rect x="31.67" y="191.56" width="3.45" height="4.58" fill="#fff"/><rect x="48.85" y="187.50" width="2.68" height="4.24" fill="#fff"/><rect x="52.73" y="187.50" width="2.69" height="4.24" fill="#fff"/><rect x="26.60" y="282.43" width="3.47" height="4.58" fill="#fff"/><rect x="31.67" y="282.43" width="3.45" height="4.58" fill="#fff"/><rect x="48.85" y="278.37" width="2.68" height="4.24" fill="#fff"/><rect x="52.73" y="278.37" width="2.69" height="4.24" fill="#fff"/><rect x="67.11" y="328.32" width="3.47" height="4.58" fill="#fff"/><rect x="72.17" y="328.32" width="3.45" height="4.58" fill="#fff"/><rect x="205.71" y="328.32" width="3.47" height="4.58" fill="#fff"/><rect x="210.78" y="328.32" width="3.45" height="4.58" fill="#fff"/><rect x="344.32" y="328.32" width="3.47" height="4.58" fill="#fff"/><rect x="349.39" y="328.32" width="3.45" height="4.58" fill="#fff"/><rect x="482.23" y="328.32" width="3.47" height="4.58" fill="#fff"/><rect x="487.30" y="328.32" width="3.45" height="4.58" fill="#fff"/><rect x="265.40" y="34.92" width="2.54" height="4.18" fill="#fff"/><rect x="269.07" y="34.92" width="2.56" height="4.18" fill="#fff"/><rect x="265.40" y="62.72" width="2.54" height="4.18" fill="#fff"/><rect x="269.07" y="62.72" width="2.56" height="4.18" fill="#fff"/><rect x="265.40" y="101.82" width="2.54" height="4.18" fill="#fff"/><rect x="269.07" y="101.82" width="2.56" height="4.18" fill="#fff"/><rect x="249.50" y="168.62" width="2.54" height="4.18" fill="#fff"/><rect x="253.17" y="168.62" width="2.56" height="4.18" fill="#fff"/><rect x="265.40" y="168.62" width="2.54" height="4.18" fill="#fff"/><rect x="269.07" y="168.62" width="2.56" height="4.18" fill="#fff"/></g>
</svg>
</body></html>
